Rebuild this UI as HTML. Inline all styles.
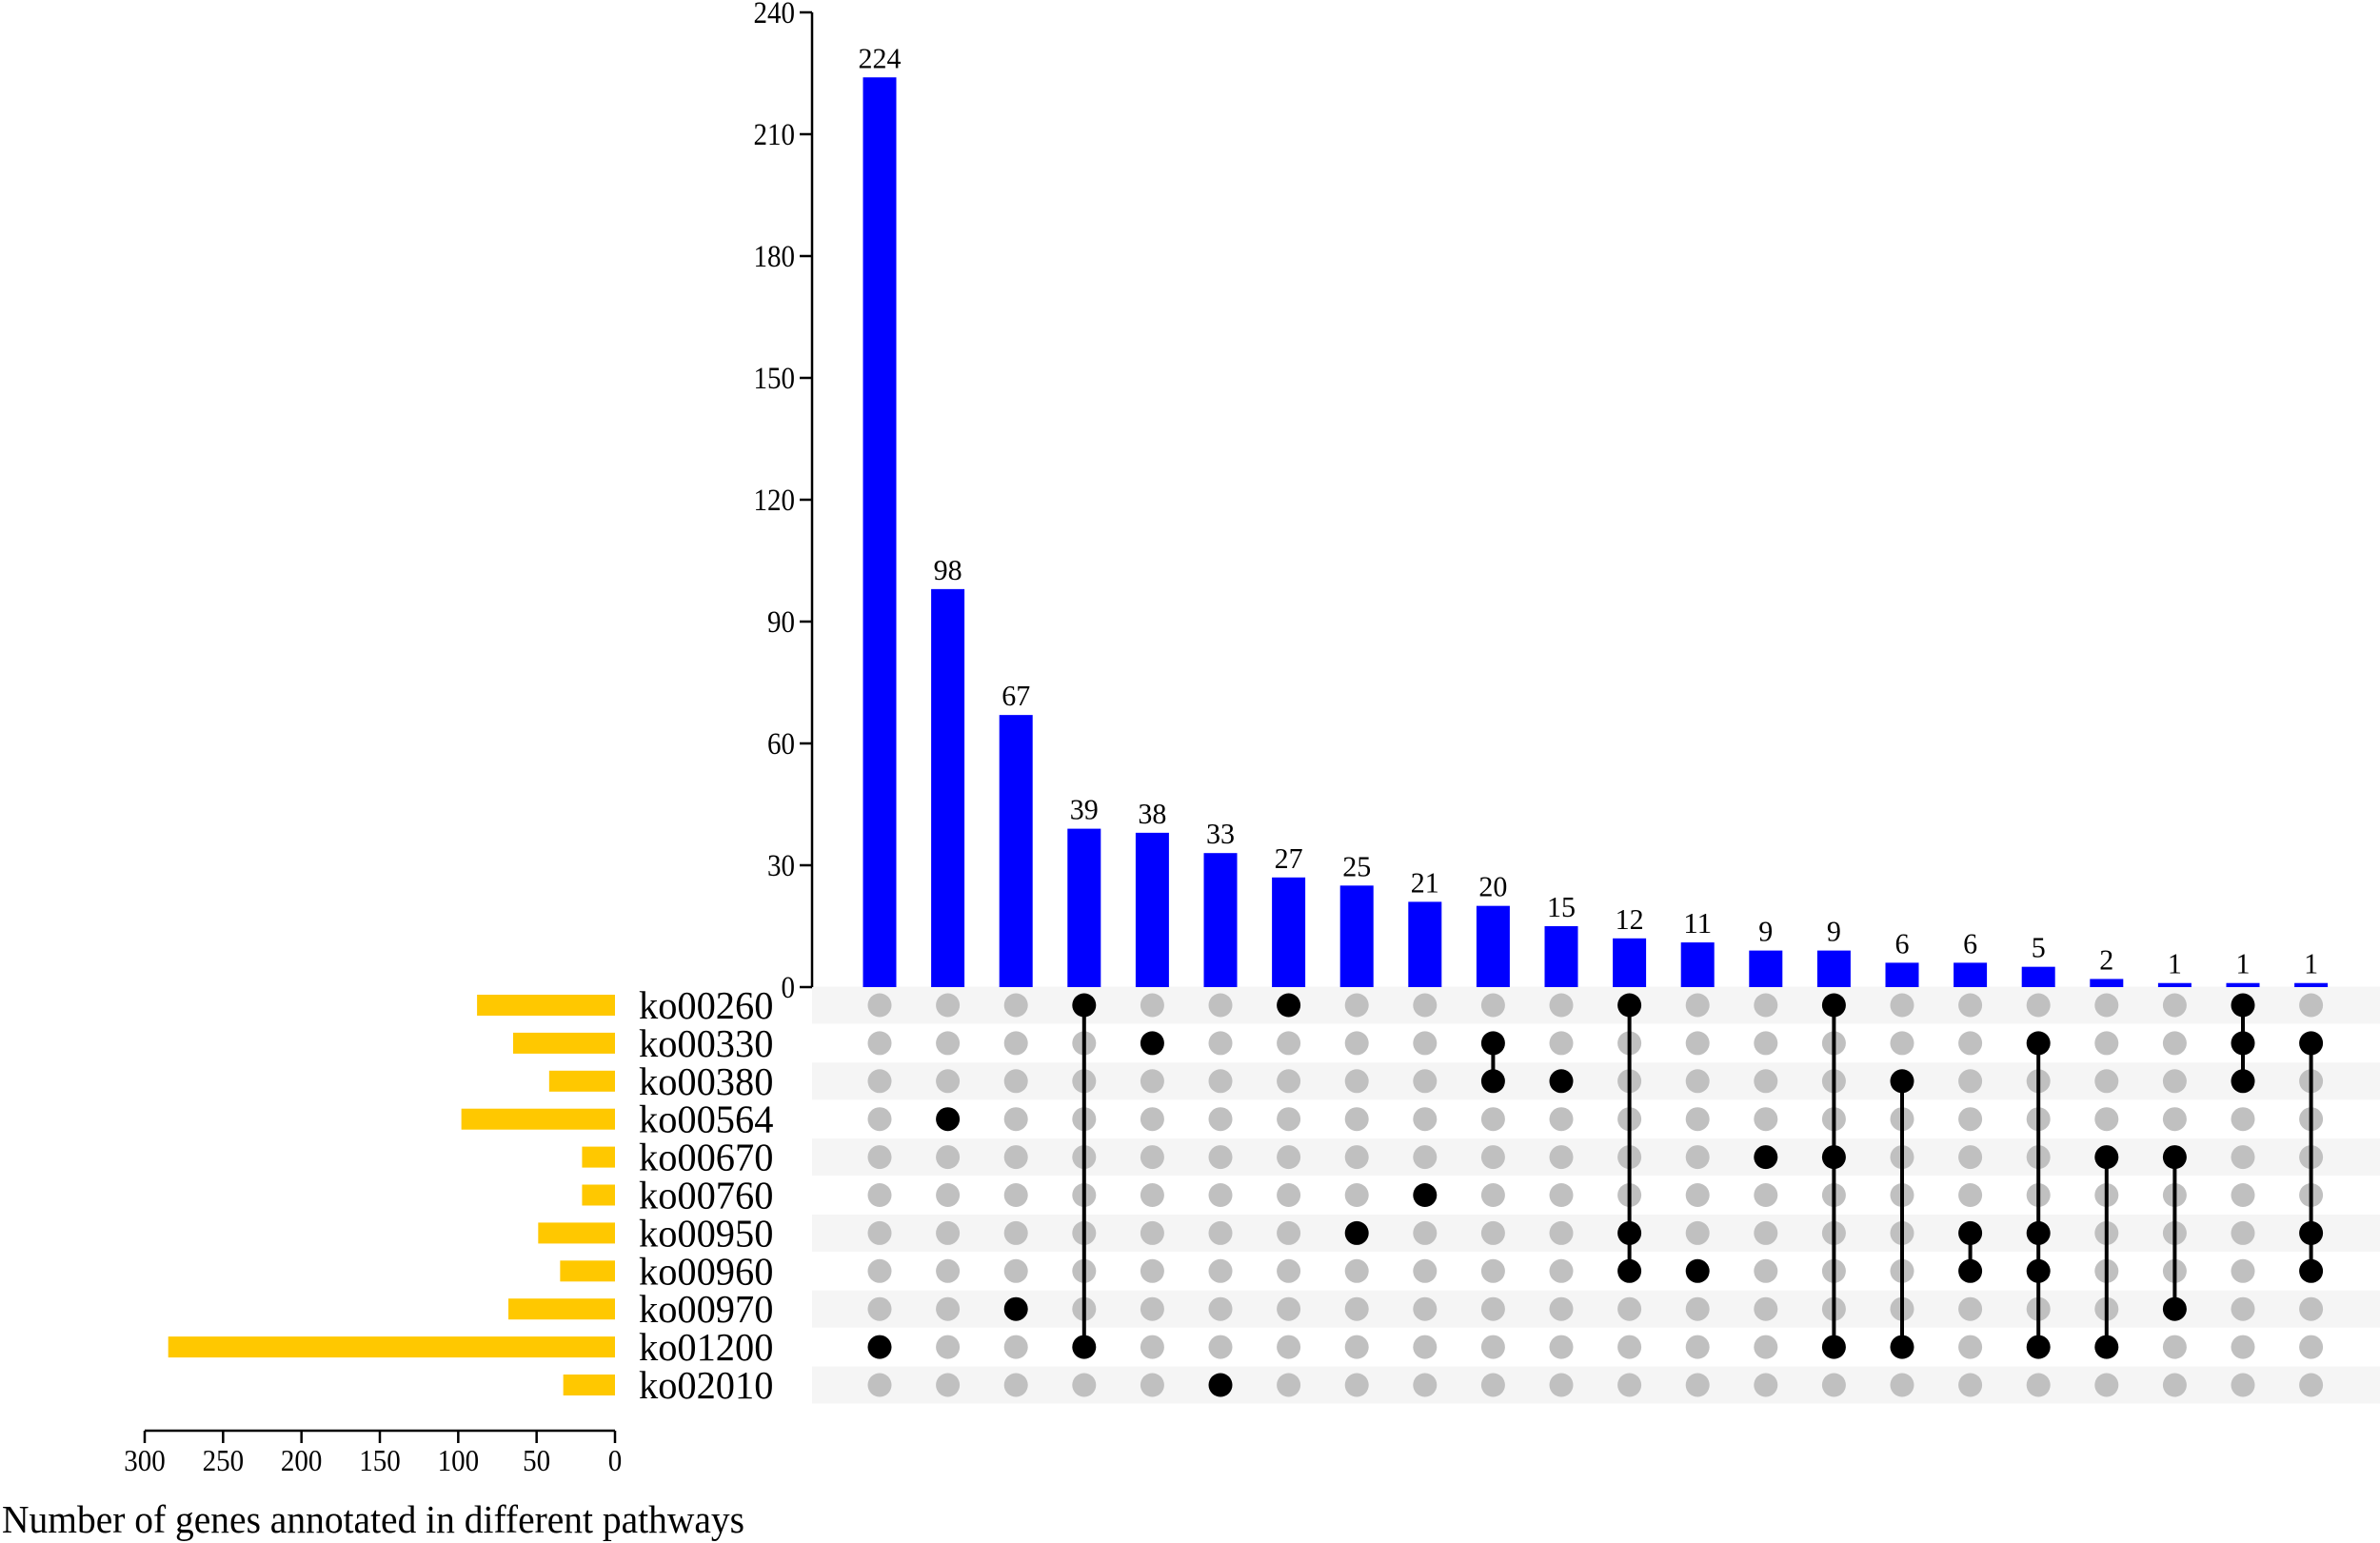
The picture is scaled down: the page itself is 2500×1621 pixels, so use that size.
<!DOCTYPE html>
<html><head><meta charset="utf-8"><style>
html,body{margin:0;padding:0;background:#fff}
svg{display:block}
text{font-family:"Liberation Serif",serif;fill:#000}
</style></head><body>
<svg id="chart" width="2500" height="1621" viewBox="0 0 2500 1621" xmlns="http://www.w3.org/2000/svg"></svg>
<script>
const setNames=["ko00260","ko00330","ko00380","ko00564","ko00670","ko00760","ko00950","ko00960","ko00970","ko01200","ko02010"];
const setSizes=[88,65,42,98,21,21,49,35,68,285,33];
const interValues=[224,98,67,39,38,33,27,25,21,20,15,12,11,9,9,6,6,5,2,1,1,1];
const interSets=[[9],[3],[8],[0,9],[1],[10],[0],[6],[5],[1,2],[2],[0,6,7],[7],[4],[0,4,9],[2,9],[6,7],[1,6,7,9],[4,9],[4,8],[0,1,2],[1,6,7]];
const yTicks=[0,30,60,90,120,150,180,210,240];
const xTicks=[0,50,100,150,200,250,300];

const NS="http://www.w3.org/2000/svg";
const svg=document.getElementById('chart');
function mk(tag,attrs,parent){const e=document.createElementNS(NS,tag);for(const k in attrs)e.setAttribute(k,attrs[k]);(parent||svg).appendChild(e);return e;}
function fit(el,perChar){el.setAttribute('textLength',String(el.textContent).length*perChar);el.setAttribute('lengthAdjust','spacingAndGlyphs');}
const y0=1037,yTop=13,yMax=240;
const yScale=v=>y0-(v/yMax)*(y0-yTop);
const colX=i=>924+i*71.6;
const rowY=j=>1056+j*39.9;
const lx0=646,lx300=152;
const lScale=v=>lx0-(v/300)*(lx0-lx300);

setNames.forEach((n,j)=>{
  if(j%2===0){const r=mk('rect',{x:853,y:rowY(j)-19.5,width:1647,height:39,fill:'#f5f5f5'});
  
  }
});
const ax=mk('g',{});


mk('line',{x1:853,y1:yTop,x2:853,y2:y0,stroke:'#000','stroke-width':2.5},ax);
yTicks.forEach(t=>{
  mk('line',{x1:840,y1:yScale(t),x2:853,y2:yScale(t),stroke:'#000','stroke-width':2.5},ax);
  const tx=mk('text',{x:835,y:yScale(t)+11,'text-anchor':'end','font-size':33},ax);tx.textContent=t;fit(tx,14.5);
  
  
});
interValues.forEach((v,i)=>{
  const b=mk('rect',{x:colX(i)-17.5,y:yScale(v),width:35,height:y0-yScale(v),fill:'#0000ff'});
  
  
  const t=mk('text',{x:colX(i),y:yScale(v)-10,'text-anchor':'middle','font-size':31});t.textContent=v;fit(t,15);
  
  
});
interSets.forEach((s,i)=>{
  setNames.forEach((n,j)=>{
    const c=mk('circle',{cx:colX(i),cy:rowY(j),r:12.5,fill:s.includes(j)?'#000':'#c0c0c0'});
    
    
  });
  if(s.length>1){
    const l=mk('line',{x1:colX(i),y1:rowY(Math.min(...s)),x2:colX(i),y2:rowY(Math.max(...s)),stroke:'#000','stroke-width':4});
    
    
  }
});
setNames.forEach((n,j)=>{
  const t=mk('text',{x:671,y:rowY(j)+14,'font-size':41});t.textContent=n;fit(t,20.2);
  
  
  const b=mk('rect',{x:lScale(setSizes[j]),y:rowY(j)-11,width:lx0-lScale(setSizes[j]),height:22,fill:'#ffc800'});
  
  
});
const bx=mk('g',{});


mk('line',{x1:lx300,y1:1503,x2:lx0,y2:1503,stroke:'#000','stroke-width':2.5},bx);
xTicks.forEach(t=>{
  mk('line',{x1:lScale(t),y1:1503,x2:lScale(t),y2:1516,stroke:'#000','stroke-width':2.5},bx);
  const tx=mk('text',{x:lScale(t),y:1545,'text-anchor':'middle','font-size':32},bx);tx.textContent=t;fit(tx,14.5);
  
  
});
const tt=mk('text',{x:2,y:1610,'font-size':41});tt.textContent='Number of genes annotated in different pathways';
tt.setAttribute('textLength',780);tt.setAttribute('lengthAdjust','spacingAndGlyphs');


</script>
</body></html>
